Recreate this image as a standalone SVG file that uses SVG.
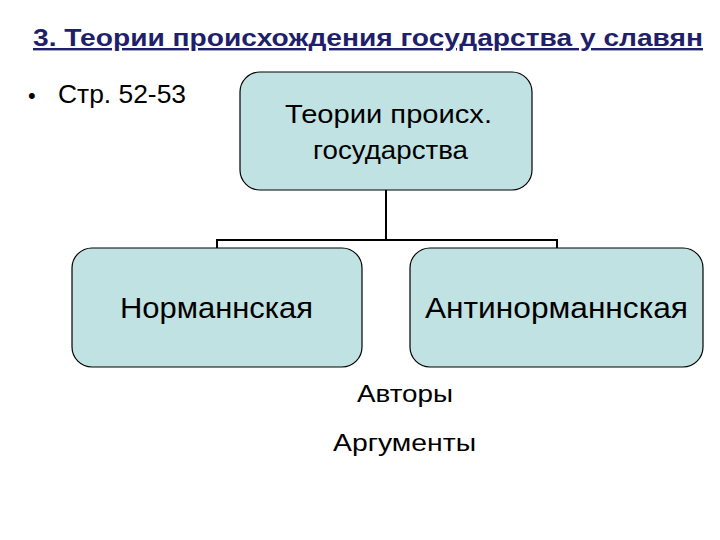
<svg xmlns="http://www.w3.org/2000/svg" width="720" height="540" viewBox="0 0 720 540">
<style>
.box{fill:#C0E2E2;stroke:#000;stroke-width:1.2}
.t{font-family:"Liberation Sans",Arial,sans-serif;fill:#000}
</style>
<rect width="720" height="540" fill="#fff"/>
<text x="33" y="46" class="t" font-size="24" font-weight="bold" style="fill:#1F1F6B" textLength="670" lengthAdjust="spacingAndGlyphs" text-decoration="underline">3. Теории происхождения государства у славян</text>
<text x="28" y="103" class="t" font-size="22">•</text>
<text x="58" y="103" class="t" font-size="25" textLength="128" lengthAdjust="spacingAndGlyphs">Стр. 52-53</text>
<g id="connectors" fill="none" stroke="#000" stroke-width="2">
<path d="M386 190V240M217 248V240H557V248"/>
</g>
<g id="top"><rect class="box" x="240" y="72" width="292" height="118" rx="20"/>
<text class="t" x="285" y="123" font-size="25" textLength="207" lengthAdjust="spacingAndGlyphs">Теории  происх.</text>
<text class="t" x="313" y="159" font-size="25" textLength="155" lengthAdjust="spacingAndGlyphs">государства</text></g>
<g id="left"><rect class="box" x="72" y="248" width="290" height="119" rx="20"/>
<text class="t" x="120" y="318" font-size="30" textLength="193" lengthAdjust="spacingAndGlyphs">Норманнская</text></g>
<g id="right"><rect class="box" x="410" y="248" width="293" height="119" rx="20"/>
<text class="t" x="425" y="318" font-size="30" textLength="263" lengthAdjust="spacingAndGlyphs">Антинорманнская</text></g>
<text class="t" x="357" y="402" font-size="24" textLength="96" lengthAdjust="spacingAndGlyphs">Авторы</text>
<text class="t" x="333" y="451" font-size="24" textLength="143" lengthAdjust="spacingAndGlyphs">Аргументы</text>
</svg>
